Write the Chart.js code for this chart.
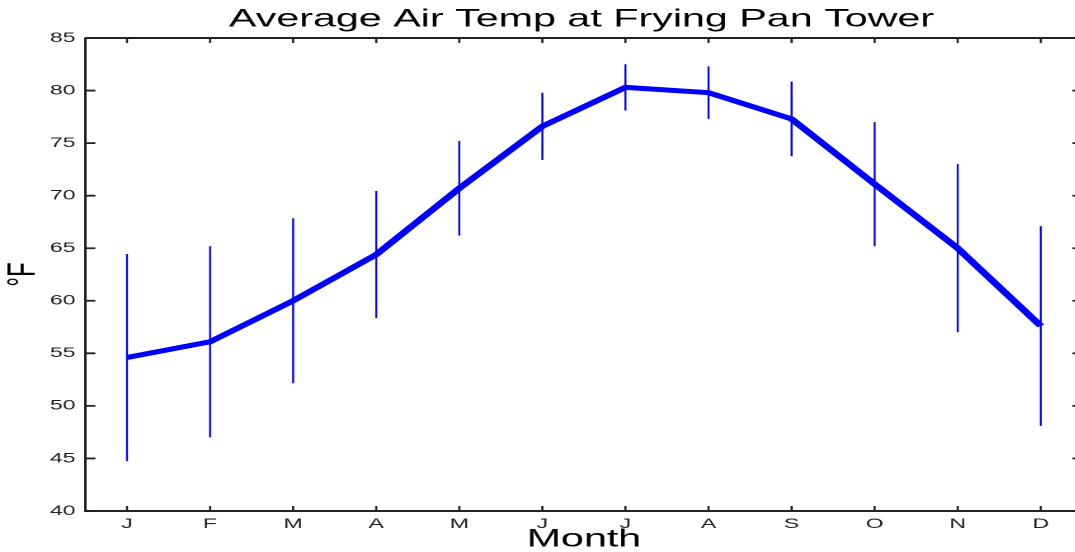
<!DOCTYPE html>
<html>
<head>
<meta charset="utf-8">
<script src="https://cdn.jsdelivr.net/npm/chart.js"></script>
<style>
    body { margin: 0; background: #fff; }
    #wrap { width: 1075px; height: 552px; overflow: hidden; }
</style>
</head>
<body>
<div id="wrap">
    <!-- the figure is stretched sideways, like the original -->
    <canvas id="myChart" width="705" height="552" style="width:1163px;height:552px"></canvas>
</div>
<script>
let months = ['J', 'F', 'M', 'A', 'M', 'J', 'J', 'A', 'S', 'O', 'N', 'D']
let avgTemp = [54.6, 56.1, 60.0, 64.4, 70.7, 76.6, 80.3, 79.8, 77.3, 71.1, 65.0, 57.6]
let tempErr = [9.85, 9.1, 7.85, 6.05, 4.5, 3.2, 2.2, 2.5, 3.55, 5.9, 8.0, 9.5]
let yMin = 40
let yMax = 85
let yStep = 5

let axisColor = '#222'

// vertical error bars around each monthly mean
let errorBars = {
    id: 'errorBars',
    beforeDatasetsDraw(chart) {
        let ctx = chart.ctx
        let xs = chart.scales.x
        let ys = chart.scales.y
        ctx.save()
        ctx.strokeStyle = '#0000ff'
        ctx.lineWidth = 1.2
        for (let i = 0; i < avgTemp.length; i++) {
            let x = xs.getPixelForValue(i)
            ctx.beginPath()
            ctx.moveTo(x, ys.getPixelForValue(avgTemp[i] + tempErr[i]))
            ctx.lineTo(x, ys.getPixelForValue(avgTemp[i] - tempErr[i]))
            ctx.stroke()
        }
        ctx.restore()
    }
}

// matlab style box: top line and tick marks pointing inward on all sides
let boxTicks = {
    id: 'boxTicks',
    afterDraw(chart) {
        let ctx = chart.ctx
        let a = chart.chartArea
        let xs = chart.scales.x
        let ys = chart.scales.y
        ctx.save()
        ctx.strokeStyle = axisColor
        ctx.lineWidth = 2
        ctx.beginPath()
        ctx.moveTo(a.left, a.top)
        ctx.lineTo(a.right, a.top)
        ctx.stroke()

        ctx.lineWidth = 1.3
        xs.ticks.forEach((t, i) => {
            let x = xs.getPixelForTick(i)
            ctx.beginPath()
            ctx.moveTo(x, a.bottom)
            ctx.lineTo(x, a.bottom - 5)
            ctx.moveTo(x, a.top)
            ctx.lineTo(x, a.top + 5)
            ctx.stroke()
        })
        ctx.lineWidth = 1.8
        ys.ticks.forEach((t, i) => {
            let y = ys.getPixelForTick(i)
            ctx.beginPath()
            ctx.moveTo(a.left, y)
            ctx.lineTo(a.left + 6, y)
            ctx.moveTo(a.right, y)
            ctx.lineTo(a.right - 6, y)
            ctx.stroke()
        })
        ctx.restore()
    }
}

let ctx = document.getElementById('myChart').getContext('2d');
let myChart = new Chart(ctx, {
    type: 'line',
    data: {
        labels: months,
        datasets: [{
            label: 'Average Air Temp',
            data: avgTemp,
            borderColor: '#0000ff',
            backgroundColor: '#0000ff',
            borderWidth: 5,
            pointRadius: 0,
            tension: 0,
            fill: false
        }]
    },
    options: {
        responsive: false,
        devicePixelRatio: 2,
        animation: false,
        layout: { padding: 0 },
        plugins: {
            legend: { display: false },
            tooltip: { enabled: false },
            title: {
                display: true,
                text: 'Average Air Temp at Frying Pan Tower',
                color: '#000',
                font: { family: 'Liberation Sans', size: 25, weight: 'normal', lineHeight: 1.2 },
                padding: { top: 4.5, bottom: 3.5 }
            }
        },
        scales: {
            x: {
                type: 'category',
                offset: true,
                grid: { display: false, drawTicks: false },
                border: { display: true, color: axisColor, width: 2 },
                ticks: {
                    color: '#222',
                    padding: 6,
                    font: { family: 'Liberation Sans', size: 14, lineHeight: 1 }
                },
                title: {
                    display: true,
                    text: 'Month',
                    color: '#000',
                    font: { family: 'Liberation Sans', size: 25, lineHeight: 1 },
                    padding: { top: 0, bottom: 0 }
                },
                afterFit(s) { s.height = 41 }
            },
            y: {
                min: yMin,
                max: yMax,
                grid: { display: false, drawTicks: false },
                border: { display: true, color: axisColor, width: 1.5 },
                ticks: {
                    stepSize: yStep,
                    color: '#222',
                    padding: 6,
                    font: { family: 'Liberation Sans', size: 14, lineHeight: 1 }
                },
                title: {
                    display: true,
                    text: '°F',
                    color: '#000',
                    font: { family: 'Liberation Sans', size: 24, lineHeight: 1 },
                    padding: { top: 2.5, bottom: 0 }
                },
                afterFit(s) { s.width = 51.8 }
            },
            y2: {
                position: 'right',
                min: yMin,
                max: yMax,
                grid: { display: false, drawTicks: false },
                border: { display: false },
                ticks: { display: false },
                afterFit(s) { s.width = 48.9 }
            }
        }
    },
    plugins: [errorBars, boxTicks]
});
</script>
</body>
</html>
